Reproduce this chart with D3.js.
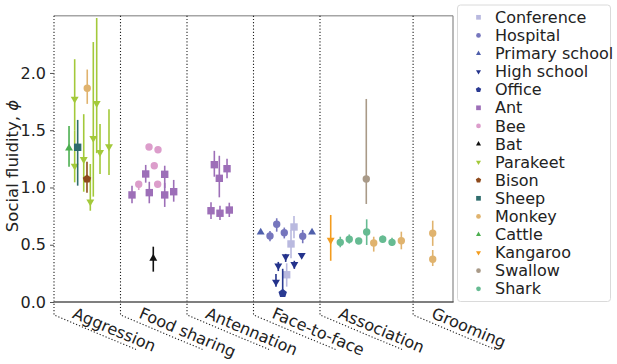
<!DOCTYPE html>
<html>
<head>
<meta charset="utf-8">
<script src="https://cdn.jsdelivr.net/npm/d3@7"></script>
<style>
  body { margin: 0; background: #fff; }
  text { font-family: "DejaVu Sans", sans-serif; fill: #222; }
</style>
</head>
<body>
<div id="chart"></div>
<script>
// groups along the x axis and where each one starts (x units)
var groups = ["Aggression", "Food sharing", "Antennation", "Face-to-face", "Association", "Grooming"];
var groupEdges = [0, 1, 2, 3, 4, 5.4, 6];
var yTicks = [0, 0.5, 1.0, 1.5, 2.0];

// each point: [x, phi, lower, upper]
var conference = [[3.609, 0.655, 0.556, 0.751], [3.564, 0.507, 0.382, 0.629], [3.499, 0.238, 0.134, 0.338]];
var hospital = [[3.248, 0.576, 0.53, 0.62], [3.349, 0.679, 0.614, 0.731], [3.463, 0.605, 0.555, 0.65], [3.74, 0.574, 0.513, 0.629]];
var primarySchool = [[3.108, 0.609, 0.609, 0.609], [3.88, 0.609, 0.609, 0.609]];
var highSchool = [[3.484, 0.396, 0.35, 0.42], [3.614, 0.329, 0.29, 0.36], [3.725, 0.408, 0.39, 0.42], [3.373, 0.317, 0.27, 0.35], [3.338, 0.175, 0.134, 0.245]];
var office = [[3.439, 0.076, 0.061, 0.29]];
var ant = [[1.173, 0.935, 0.862, 1.016], [1.379, 1.118, 1.042, 1.197], [1.433, 0.955, 0.862, 1.05], [1.665, 1.115, 0.995, 1.19], [1.665, 0.935, 0.83, 1.04], [1.8, 0.963, 0.876, 1.066],
           [2.411, 1.199, 1.094, 1.32], [2.486, 1.08, 0.914, 1.277], [2.602, 1.164, 1.08, 1.25], [2.361, 0.797, 0.725, 0.87], [2.496, 0.775, 0.716, 0.84], [2.636, 0.803, 0.742, 0.867]];
var bee = [[1.274, 1.028, 0.978, 1.05], [1.429, 1.354, 1.354, 1.354], [1.508, 1.19, 1.19, 1.19], [1.564, 1.33, 1.33, 1.33], [1.559, 1.028, 1.028, 1.028]];
var bat = [[1.493, 0.381, 0.265, 0.483]];
var parakeet = [[0.311, 1.773, 1.50, 2.12], [0.311, 1.188, 1.045, 1.50], [0.447, 1.246, 0.963, 1.64], [0.546, 0.876, 0.797, 1.205],
                [0.591, 1.43, 0.92, 2.27], [0.642, 1.735, 1.3, 2.48], [0.692, 1.307, 1.118, 1.555], [0.827, 1.357, 1.109, 1.683]];
var bison = [[0.496, 1.074, 0.955, 1.225]];
var sheep = [[0.356, 1.351, 1.016, 1.59]];
var monkey = [[0.5, 1.866, 1.73, 2.03], [4.808, 0.515, 0.44, 0.57], [5.223, 0.535, 0.46, 0.614], [5.695, 0.6, 0.49, 0.71], [5.695, 0.373, 0.314, 0.454]];
var cattle = [[0.226, 1.342, 1.182, 1.537]];
var kangaroo = [[4.161, 0.541, 0.36, 0.76]];
var swallow = [[4.696, 1.074, 0.856, 1.773]];
var shark = [[4.305, 0.521, 0.478, 0.57], [4.44, 0.548, 0.51, 0.59], [4.582, 0.533, 0.51, 0.56], [4.702, 0.611, 0.498, 0.722], [4.943, 0.548, 0.52, 0.58], [5.083, 0.521, 0.49, 0.56]];

var seriesNames = ["Conference", "Hospital", "Primary school", "High school", "Office", "Ant", "Bee", "Bat", "Parakeet", "Bison", "Sheep", "Monkey", "Cattle", "Kangaroo", "Swallow", "Shark"];
var seriesData = [conference, hospital, primarySchool, highSchool, office, ant, bee, bat, parakeet, bison, sheep, monkey, cattle, kangaroo, swallow, shark];
var colors = ["#b9b9df", "#7676bd", "#4f5fab", "#24338c", "#2a3a92", "#9d6fb8", "#dc9dcb", "#111111", "#a3c93a", "#8e4a1c", "#2f6d6d", "#e0b36e", "#4caf50", "#f39c1e", "#a99a88", "#66bb92"];
var shapes = ["square", "circle", "up", "down", "pentagon", "square", "circle", "up", "down", "pentagon", "square", "circle", "up", "down", "circle", "circle"];

var W = 617, H = 364;
var plotL = 54, plotT = 15.7, plotR = 453, plotB = 302;

var svg = d3.select("#chart").append("svg")
    .attr("width", W).attr("height", H);

var x = d3.scaleLinear().domain([0, 6]).range([plotL, plotR]);
var y = d3.scaleLinear().domain([0, 2.5]).range([plotB, plotT]);

function pentagon(r) {
    var pts = [];
    for (var i = 0; i < 5; i++) {
        var a = -Math.PI / 2 + i * 2 * Math.PI / 5;
        pts.push([r * Math.cos(a), r * Math.sin(a)]);
    }
    return "M" + pts.join("L") + "Z";
}

function markerPath(shape, s) {
    if (shape == "square") return d3.symbol(d3.symbolSquare, s * s)();
    if (shape == "circle") return d3.symbol(d3.symbolCircle, Math.PI * s * s / 4)();
    if (shape == "up" || shape == "down") return d3.symbol(d3.symbolTriangle, Math.sqrt(3) / 4 * s * s * 1.15)();
    return pentagon(s * 0.6);
}

// spines
svg.append("line").attr("x1", plotL).attr("x2", plotR).attr("y1", plotT).attr("y2", plotT)
    .attr("stroke", "#a5a5a5").attr("stroke-width", 1.5);
svg.append("line").attr("x1", plotR).attr("x2", plotR).attr("y1", plotT).attr("y2", plotB)
    .attr("stroke", "#8a8a8a").attr("stroke-width", 1.2);

// group separators, with the dotted bracket running under each label
groups.forEach(function(g, i) {
    var gx = x(groupEdges[i]);
    svg.append("path")
        .attr("d", "M" + gx + "," + plotT + "L" + gx + "," + 315 + "L" + (gx + 82) + "," + 349.5)
        .attr("fill", "none")
        .attr("stroke", "#222")
        .attr("stroke-width", 1.1)
        .attr("stroke-dasharray", "1.2,2");
    svg.append("text")
        .attr("transform", "translate(" + (gx + 17.5) + ",317.5) rotate(23)")
        .style("font-size", "16px")
        .text(g);
});

svg.append("line").attr("x1", plotL).attr("x2", plotR + 0.6).attr("y1", plotB).attr("y2", plotB)
    .attr("stroke", "#555").attr("stroke-width", 1.5);

var yAxis = svg.append("g")
    .attr("transform", "translate(" + plotL + ",0)")
    .call(d3.axisLeft(y).tickValues(yTicks).tickFormat(d3.format(".1f")).tickSize(4).tickPadding(4));
yAxis.select(".domain").remove();
yAxis.selectAll("line").attr("stroke", "#555");
yAxis.selectAll("text").style("font-size", "16px").style("font-family", "DejaVu Sans").attr("fill", "#222");

var ylab = svg.append("text")
    .attr("transform", "translate(18,166) rotate(-90)")
    .attr("text-anchor", "middle")
    .style("font-size", "16.5px");
ylab.append("tspan").text("Social fluidity, ");
ylab.append("tspan").style("font-style", "italic").text("ϕ");

// error bars and markers
seriesData.forEach(function(pts, si) {
    var g = svg.append("g");
    g.selectAll("line").data(pts).enter().append("line")
        .attr("x1", function(d) { return x(d[0]); })
        .attr("x2", function(d) { return x(d[0]); })
        .attr("y1", function(d) { return y(d[2]); })
        .attr("y2", function(d) { return y(d[3]); })
        .attr("stroke", colors[si])
        .attr("stroke-width", 1.6);
    g.selectAll("path").data(pts).enter().append("path")
        .attr("d", markerPath(shapes[si], 7.4))
        .attr("transform", function(d) {
            return "translate(" + x(d[0]) + "," + y(d[1]) + ")" + (shapes[si] == "down" ? " rotate(180)" : "");
        })
        .attr("fill", colors[si]);
});

// legend
var lg = svg.append("g");
lg.append("rect").attr("x", 457.5).attr("y", 5).attr("width", 153).attr("height", 296.5)
    .attr("rx", 3).attr("fill", "#fff").attr("stroke", "#dadada");
seriesNames.forEach(function(name, i) {
    var ly = 17.3 + i * 18.1;
    lg.append("path")
        .attr("d", markerPath(shapes[i], 4.7))
        .attr("transform", "translate(478.5," + ly + ")" + (shapes[i] == "down" ? " rotate(180)" : ""))
        .attr("fill", colors[i]);
    lg.append("text").attr("x", 495).attr("y", ly).attr("dy", "0.35em")
        .style("font-size", "16px").text(name);
});
</script>
</body>
</html>
